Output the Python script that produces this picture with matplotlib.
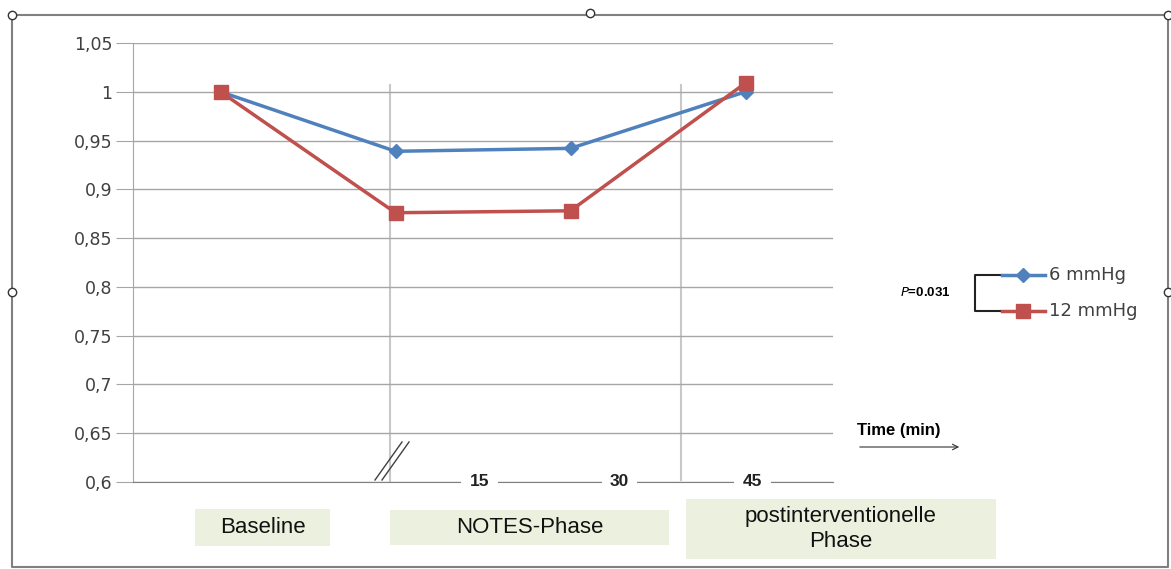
import matplotlib.pyplot as plt
from matplotlib.patches import Rectangle
from matplotlib.lines import Line2D

# data
steps = [0, 1, 2, 3]
mmhg6 = [1.0, 0.939, 0.942, 1.0]
mmhg12 = [1.0, 0.876, 0.878, 1.009]
yticks = [0.6, 0.65, 0.7, 0.75, 0.8, 0.85, 0.9, 0.95, 1.0, 1.05]
ytick_labels = ['0,6', '0,65', '0,7', '0,75', '0,8', '0,85', '0,9', '0,95', '1', '1,05']
time_labels = ['15', '30', '45']
time_pos = [1.48, 2.28, 3.04]
phases = ['Baseline', 'NOTES-Phase', 'postinterventionelle\nPhase']

blue = '#4F81BD'
red = '#C0504D'
W, H = 1171, 569

fig = plt.figure(figsize=(W / 100, H / 100), dpi=100)
fig.patch.set_facecolor('white')
ax = fig.add_axes([133 / W, (H - 482) / H, 700 / W, 439 / H])

ax.set_xlim(-0.5, 3.5)
ax.set_ylim(0.6, 1.05)
ax.set_yticks(yticks)
ax.set_yticklabels(ytick_labels, fontsize=12.5, color='#404040', family='DejaVu Sans')
ax.set_xticks([])
ax.yaxis.grid(True, color='#A6A6A6', lw=1)
ax.tick_params(axis='y', length=12, color='#A6A6A6', pad=3)
for s in ['top', 'right']:
    ax.spines[s].set_visible(False)
ax.spines['left'].set_color('#A6A6A6')
ax.spines['bottom'].set_color('#808080')

# phase separators
ax.plot([0.969, 0.969], [0.6, 1.007], color='#C8C8C8', lw=1.5, zorder=1)
ax.plot([2.631, 2.631], [0.602, 1.007], color='#C8C8C8', lw=1.5, zorder=1)

ax.plot(steps, mmhg6, color=blue, lw=2.5, marker='D', ms=7, zorder=3)
ax.plot(steps, mmhg12, color=red, lw=2.5, marker='s', ms=10, zorder=3)

# time labels breaking the axis
for p, t in zip(time_pos, time_labels):
    ax.text(p, 0.6, t, ha='center', va='center', fontsize=12.5, fontweight='bold',
            family='Liberation Sans', color='#222222', zorder=5, clip_on=False,
            bbox=dict(facecolor='white', edgecolor='none', pad=6))

def fx(px):
    return px / W

def fy(py):
    return (H - py) / H

# axis break marks
for dx in [0, 7]:
    fig.add_artist(Line2D([fx(375 + dx), fx(402 + dx)], [fy(480), fy(442)], color='#404040', lw=1))

# time arrow
fig.text(fx(857), fy(430), 'Time (min)', fontsize=12, fontweight='bold', family='Liberation Sans',
         va='center')
ax.annotate('', xy=(fx(962), fy(447)), xytext=(fx(857), fy(447)), xycoords='figure fraction',
            arrowprops=dict(arrowstyle='->', color='#333333', lw=0.8))

# legend with bracket
fig.add_artist(Line2D([fx(1000), fx(975), fx(975), fx(1000)],
                      [fy(275), fy(275), fy(311), fy(311)], color='#222222', lw=1.5))
fig.add_artist(Line2D([fx(1002), fx(1023), fx(1045)], [fy(275)] * 3, color=blue, lw=2.5,
                      marker='D', ms=7, markevery=[1]))
fig.add_artist(Line2D([fx(1002), fx(1023), fx(1045)], [fy(311)] * 3, color=red, lw=2.5,
                      marker='s', ms=10, markevery=[1]))
fig.text(fx(1049), fy(275), '6 mmHg', fontsize=13, color='#404040', va='center')
fig.text(fx(1049), fy(311), '12 mmHg', fontsize=13, color='#404040', va='center')
fig.text(fx(900), fy(293), r'$\mathit{P}$=0.031', fontsize=9.5, fontweight='bold',
         family='Liberation Sans', va='center')

# phase boxes
boxes = [(195, 509, 135, 37), (390, 510, 279, 35), (686, 499, 310, 60)]
for (x, y, w, h), lab in zip(boxes, phases):
    fig.add_artist(Rectangle((fx(x), fy(y + h)), w / W, h / H, facecolor='#EBF1DE',
                             edgecolor='none'))
    fig.text(fx(x + w / 2), fy(y + h / 2), lab, ha='center', va='center', fontsize=16,
             family='Liberation Sans', color='#111111', linespacing=1.3)

# outer frame with handles
fig.add_artist(Line2D([fx(12), fx(1168), fx(1168), fx(12), fx(12)],
                      [fy(15), fy(15), fy(567), fy(567), fy(15)], color='#808080', lw=1.5))
hx = [12, 590, 1168, 12, 1168]
hy = [15, 13, 15, 292, 292]
fig.add_artist(Line2D([fx(v) for v in hx], [fy(v) for v in hy], ls='none', marker='o', ms=6,
                      mfc='white', mec='#333333', mew=1))

fig.savefig('out.png', dpi=100)
